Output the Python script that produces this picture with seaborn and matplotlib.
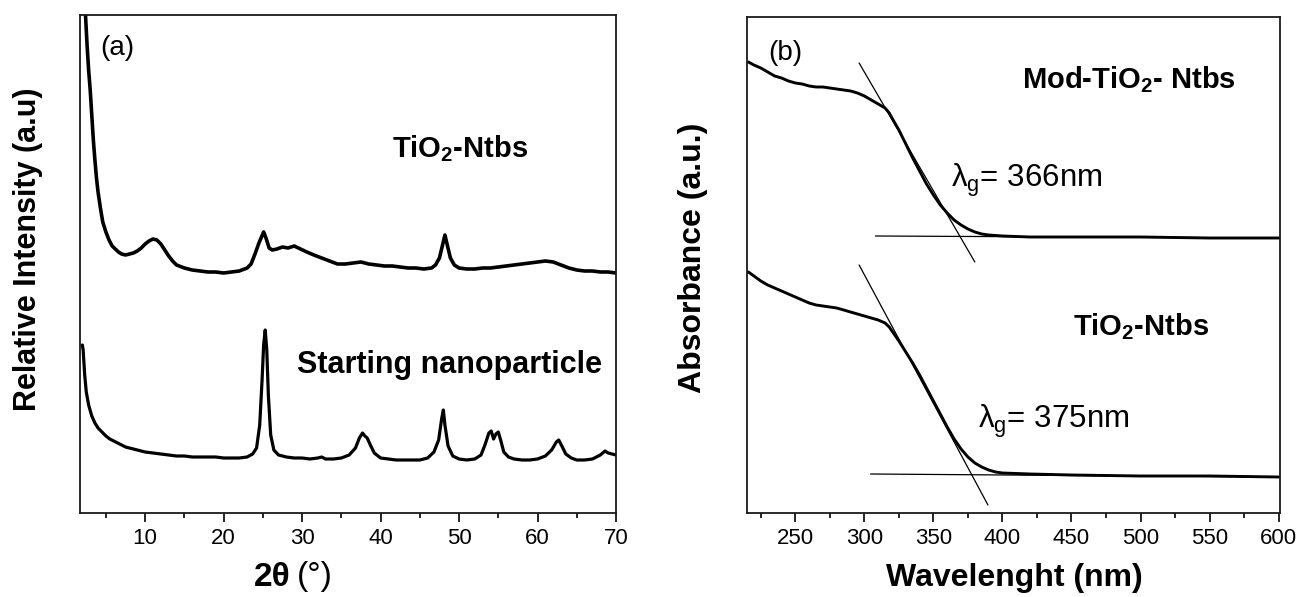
import matplotlib
matplotlib.use("Agg")
import matplotlib.pyplot as plt
from matplotlib.ticker import MultipleLocator
import seaborn as sns
import pandas as pd

# ---------------- data (arbitrary units) ----------------
# Panel (a): XRD patterns
xrd_2theta_ntbs = [2.2, 2.4, 2.6, 2.8, 3.0, 3.2, 3.4, 3.6, 3.8, 4.0, 4.3, 4.6, 5.0, 5.4, 5.8, 6.2,
                   6.6, 7.0, 7.5, 8.0, 8.5, 9.0, 9.5, 10.0, 10.5, 11.0, 11.5, 12.0, 12.5, 13.0, 13.5,
                   14.0, 15.0, 16.0, 17.0, 18.0, 19.0, 20.0, 21.0, 22.0, 23.0, 23.5, 24.0, 24.5,
                   25.1, 25.4, 25.8, 26.2, 26.8, 27.5, 28.2, 29.0, 29.8, 30.6, 31.5, 32.5, 33.5,
                   34.5, 35.5, 36.5, 37.5, 38.5, 39.5, 40.5, 41.5, 42.5, 43.5, 44.5, 45.5, 46.5,
                   47.0, 47.5, 47.9, 48.2, 48.5, 48.9, 49.4, 50.0, 51.0, 52.0, 53.0, 54.0, 55.0,
                   56.0, 57.0, 58.0, 59.0, 60.0, 61.0, 62.0, 63.0, 64.0, 65.0, 66.0, 67.0, 68.0,
                   69.0, 70.0]
xrd_int_ntbs = [530, 485, 455, 430, 410, 385, 360, 340, 322, 308, 292, 278, 268, 260, 254, 251,
                248, 246, 245, 246, 247, 249, 252, 256, 259, 261, 260, 256, 250, 244, 239,
                235, 232, 230, 229, 228, 228, 227, 228, 229, 232, 236, 246, 257,
                268, 262, 252, 250, 251, 253, 252, 254, 251, 248, 245, 242, 239,
                236, 236, 237, 238, 236, 235, 234, 234, 233, 232, 232, 231, 232,
                235, 242, 255, 265, 255, 242, 235, 232, 231, 231, 232, 232, 233,
                234, 235, 236, 237, 238, 239, 238, 235, 232, 230, 229, 229, 228,
                228, 227]

xrd_2theta_np = [2.0, 2.1, 2.3, 2.5, 2.8, 3.2, 3.6, 4.0, 4.5, 5.0, 5.5, 6.0, 6.5, 7.0, 7.5, 8.0,
                 9.0, 10.0, 11.0, 12.0, 13.0, 14.0, 15.0, 16.0, 17.0, 18.0, 19.0, 20.0, 21.0,
                 22.0, 23.0, 23.7, 24.2, 24.6, 24.9, 25.1, 25.3, 25.5, 25.7, 26.0, 26.4, 27.0,
                 28.0, 29.0, 30.0, 31.0, 32.0, 32.5, 33.0, 34.0, 35.0, 36.0, 36.8, 37.3, 37.7,
                 38.0, 38.3, 38.7, 39.2, 40.0, 41.0, 42.0, 43.0, 44.0, 45.0, 46.0, 46.8, 47.4,
                 47.8, 48.0, 48.2, 48.6, 49.2, 50.0, 51.0, 52.0, 52.8, 53.3, 53.8, 54.1, 54.4,
                 54.7, 55.0, 55.3, 55.7, 56.3, 57.0, 58.0, 59.0, 60.0, 61.0, 61.8, 62.4, 62.7,
                 63.1, 63.6, 64.3, 65.0, 66.0, 67.0, 68.0, 68.6, 69.0, 70.0]
xrd_int_np = [155, 150, 125, 108, 95, 84, 77, 72, 68, 64, 61, 59, 57, 55, 53, 52,
              50, 48, 47, 46, 45, 44, 44, 43, 43, 43, 43, 42, 42,
              42, 43, 46, 52, 75, 120, 155, 170, 150, 105, 65, 50, 45,
              43, 42, 42, 41, 42, 43, 41, 41, 42, 45, 52, 62, 67,
              64, 62, 55, 47, 42, 41, 40, 40, 40, 40, 42, 48, 60,
              82, 90, 75, 54, 44, 41, 40, 41, 45, 55, 67, 69, 61,
              66, 68, 60, 48, 43, 41, 40, 40, 41, 44, 50, 58, 60,
              54, 46, 42, 40, 40, 41, 45, 49, 47, 45]

# Panel (b): UV-vis absorbance
uv_wl = [216, 220, 225, 230, 235, 240, 245, 250, 255, 260, 265, 270, 275, 280, 285, 290, 295,
         300, 305, 310, 315, 318, 320, 325, 330, 335, 340, 345, 350, 355, 360, 365, 370, 375,
         380, 385, 390, 400, 420, 450, 500, 550, 600]
uv_abs_mod = [438, 435, 432, 428, 424, 422, 419, 417, 416, 414, 413, 413, 412, 411, 410, 409, 407,
              404, 400, 396, 392, 387, 382, 370, 356, 342, 329, 316, 305, 295, 287, 280, 275, 271,
              268, 266, 265, 264, 263, 263, 263, 262, 262]
uv_wl_ntbs = [216, 220, 225, 230, 235, 240, 245, 250, 255, 260, 265, 270, 275, 280, 285, 290, 295,
              300, 305, 310, 315, 318, 320, 325, 330, 335, 340, 345, 350, 355, 360, 365, 370, 375,
              380, 385, 390, 395, 400, 420, 450, 500, 550, 600]
uv_abs_ntbs = [228, 224, 219, 215, 212, 209, 206, 203, 200, 197, 195, 194, 193, 192, 190, 188, 186,
               184, 182, 180, 177, 173, 169, 159, 148, 137, 125, 112, 99, 86, 73, 61, 51, 43,
               37, 33, 30, 28, 27, 26, 25, 24, 24, 23]

# construction lines (tangent & baseline end points)
tan_mod_wl = [296.2, 380.0]
tan_mod_abs = [437, 238]
base_mod_wl = [308.0, 600.0]
base_mod_abs = [264, 262]
tan_ntbs_wl = [296.2, 389.5]
tan_ntbs_abs = [235, -5]
base_ntbs_wl = [304.5, 600.0]
base_ntbs_abs = [26, 23]

xticks_a = [10, 20, 30, 40, 50, 60, 70]
xticks_b = [250, 300, 350, 400, 450, 500, 550, 600]

# ---------------- style ----------------
sns.set_theme(style="ticks")
plt.rcParams["font.family"] = ["Liberation Sans", "DejaVu Sans"]
plt.rcParams["mathtext.fontset"] = "custom"
plt.rcParams["mathtext.rm"] = "Liberation Sans"
plt.rcParams["mathtext.bf"] = "Liberation Sans:bold"
plt.rcParams["mathtext.it"] = "Liberation Sans:italic"
plt.rcParams["axes.linewidth"] = 1.3
plt.rcParams["text.color"] = "black"
plt.rcParams["axes.labelcolor"] = "black"
plt.rcParams["xtick.color"] = "black"
plt.rcParams["xtick.labelcolor"] = "black"

W, H = 1300, 597
fig = plt.figure(figsize=(W / 100, H / 100), dpi=100)
fig.patch.set_facecolor("white")


def fp(px, py):
    return px / W, 1 - py / H


ax1 = fig.add_axes([80 / W, 1 - 513 / H, (616 - 80) / W, (513 - 15) / H])
ax2 = fig.add_axes([747 / W, 1 - 513 / H, (1280 - 747) / W, (513 - 17) / H])

# panel a
df_a1 = pd.DataFrame({"x": xrd_2theta_ntbs, "y": xrd_int_ntbs})
df_a2 = pd.DataFrame({"x": xrd_2theta_np, "y": xrd_int_np})
sns.lineplot(data=df_a1, x="x", y="y", ax=ax1, color="black", lw=2.6, estimator=None)
sns.lineplot(data=df_a2, x="x", y="y", ax=ax1, color="black", lw=2.3, estimator=None)
ax1.set_xlim(1.7, 70)
ax1.set_ylim(-13, 485)

# panel b
df_b1 = pd.DataFrame({"x": uv_wl, "y": uv_abs_mod})
df_b2 = pd.DataFrame({"x": uv_wl_ntbs, "y": uv_abs_ntbs})
sns.lineplot(data=df_b1, x="x", y="y", ax=ax2, color="black", lw=2.1, estimator=None)
sns.lineplot(data=df_b2, x="x", y="y", ax=ax2, color="black", lw=2.1, estimator=None)
for xs, ys in [(tan_mod_wl, tan_mod_abs), (base_mod_wl, base_mod_abs),
               (tan_ntbs_wl, tan_ntbs_abs), (base_ntbs_wl, base_ntbs_abs)]:
    ax2.plot(xs, ys, color="black", lw=0.9)
ax2.set_xlim(215, 601)
ax2.set_ylim(-13, 483)

for ax, ticks, minor in [(ax1, xticks_a, 5), (ax2, xticks_b, 25)]:
    ax.set_xticks(ticks)
    ax.xaxis.set_minor_locator(MultipleLocator(minor))
    ax.set_yticks([])
    ax.set_xlabel("")
    ax.set_ylabel("")
    ax.tick_params(axis="x", which="major", direction="out", length=6.5, width=1.2,
                   labelsize=16, pad=4, colors="black")
    ax.tick_params(axis="x", which="minor", direction="out", length=3.5, width=1.2,
                   colors="black")
    for s in ax.spines.values():
        s.set_visible(True)
        s.set_color("#1a1a1a")

# ---------------- texts ----------------
fig.text(*fp(117, 48), "(a)", fontsize=20, ha="center", va="center")
fig.text(*fp(785, 53), "(b)", fontsize=20, ha="center", va="center")

fig.text(*fp(392, 157), r"TiO$_\mathbf{2}$-Ntbs", fontsize=21, fontweight="bold",
         ha="left", va="baseline")
fig.text(*fp(297, 373), "Starting nanoparticle", fontsize=22, fontweight="bold",
         ha="left", va="baseline")
fig.text(*fp(1022, 88), r"Mod-TiO$_\mathbf{2}$- Ntbs", fontsize=21, fontweight="bold",
         ha="left", va="baseline")
fig.text(*fp(1073, 335), r"TiO$_\mathbf{2}$-Ntbs", fontsize=21, fontweight="bold",
         ha="left", va="baseline")
fig.text(*fp(951, 187), r"λ$_\mathrm{g}$= 366nm", fontsize=22.5, ha="left", va="baseline")
fig.text(*fp(978, 428), r"λ$_\mathrm{g}$= 375nm", fontsize=22.5, ha="left", va="baseline")

# axis labels
fig.text(*fp(291, 577), "2θ", fontsize=24, fontweight="bold", ha="right", va="center")
fig.text(*fp(297, 577), "(°)", fontsize=24, ha="left", va="center")
fig.text(*fp(1014, 578), "Wavelenght (nm)", fontsize=23, fontweight="bold",
         ha="center", va="center")
fig.text(*fp(28, 249), "Relative Intensity (a.u)", fontsize=22, fontweight="bold",
         rotation=90, ha="center", va="center")
fig.text(*fp(693, 258), "Absorbance (a.u.)", fontsize=23, fontweight="bold",
         rotation=90, ha="center", va="center")

fig.savefig("out.png", dpi=100, facecolor="white")
